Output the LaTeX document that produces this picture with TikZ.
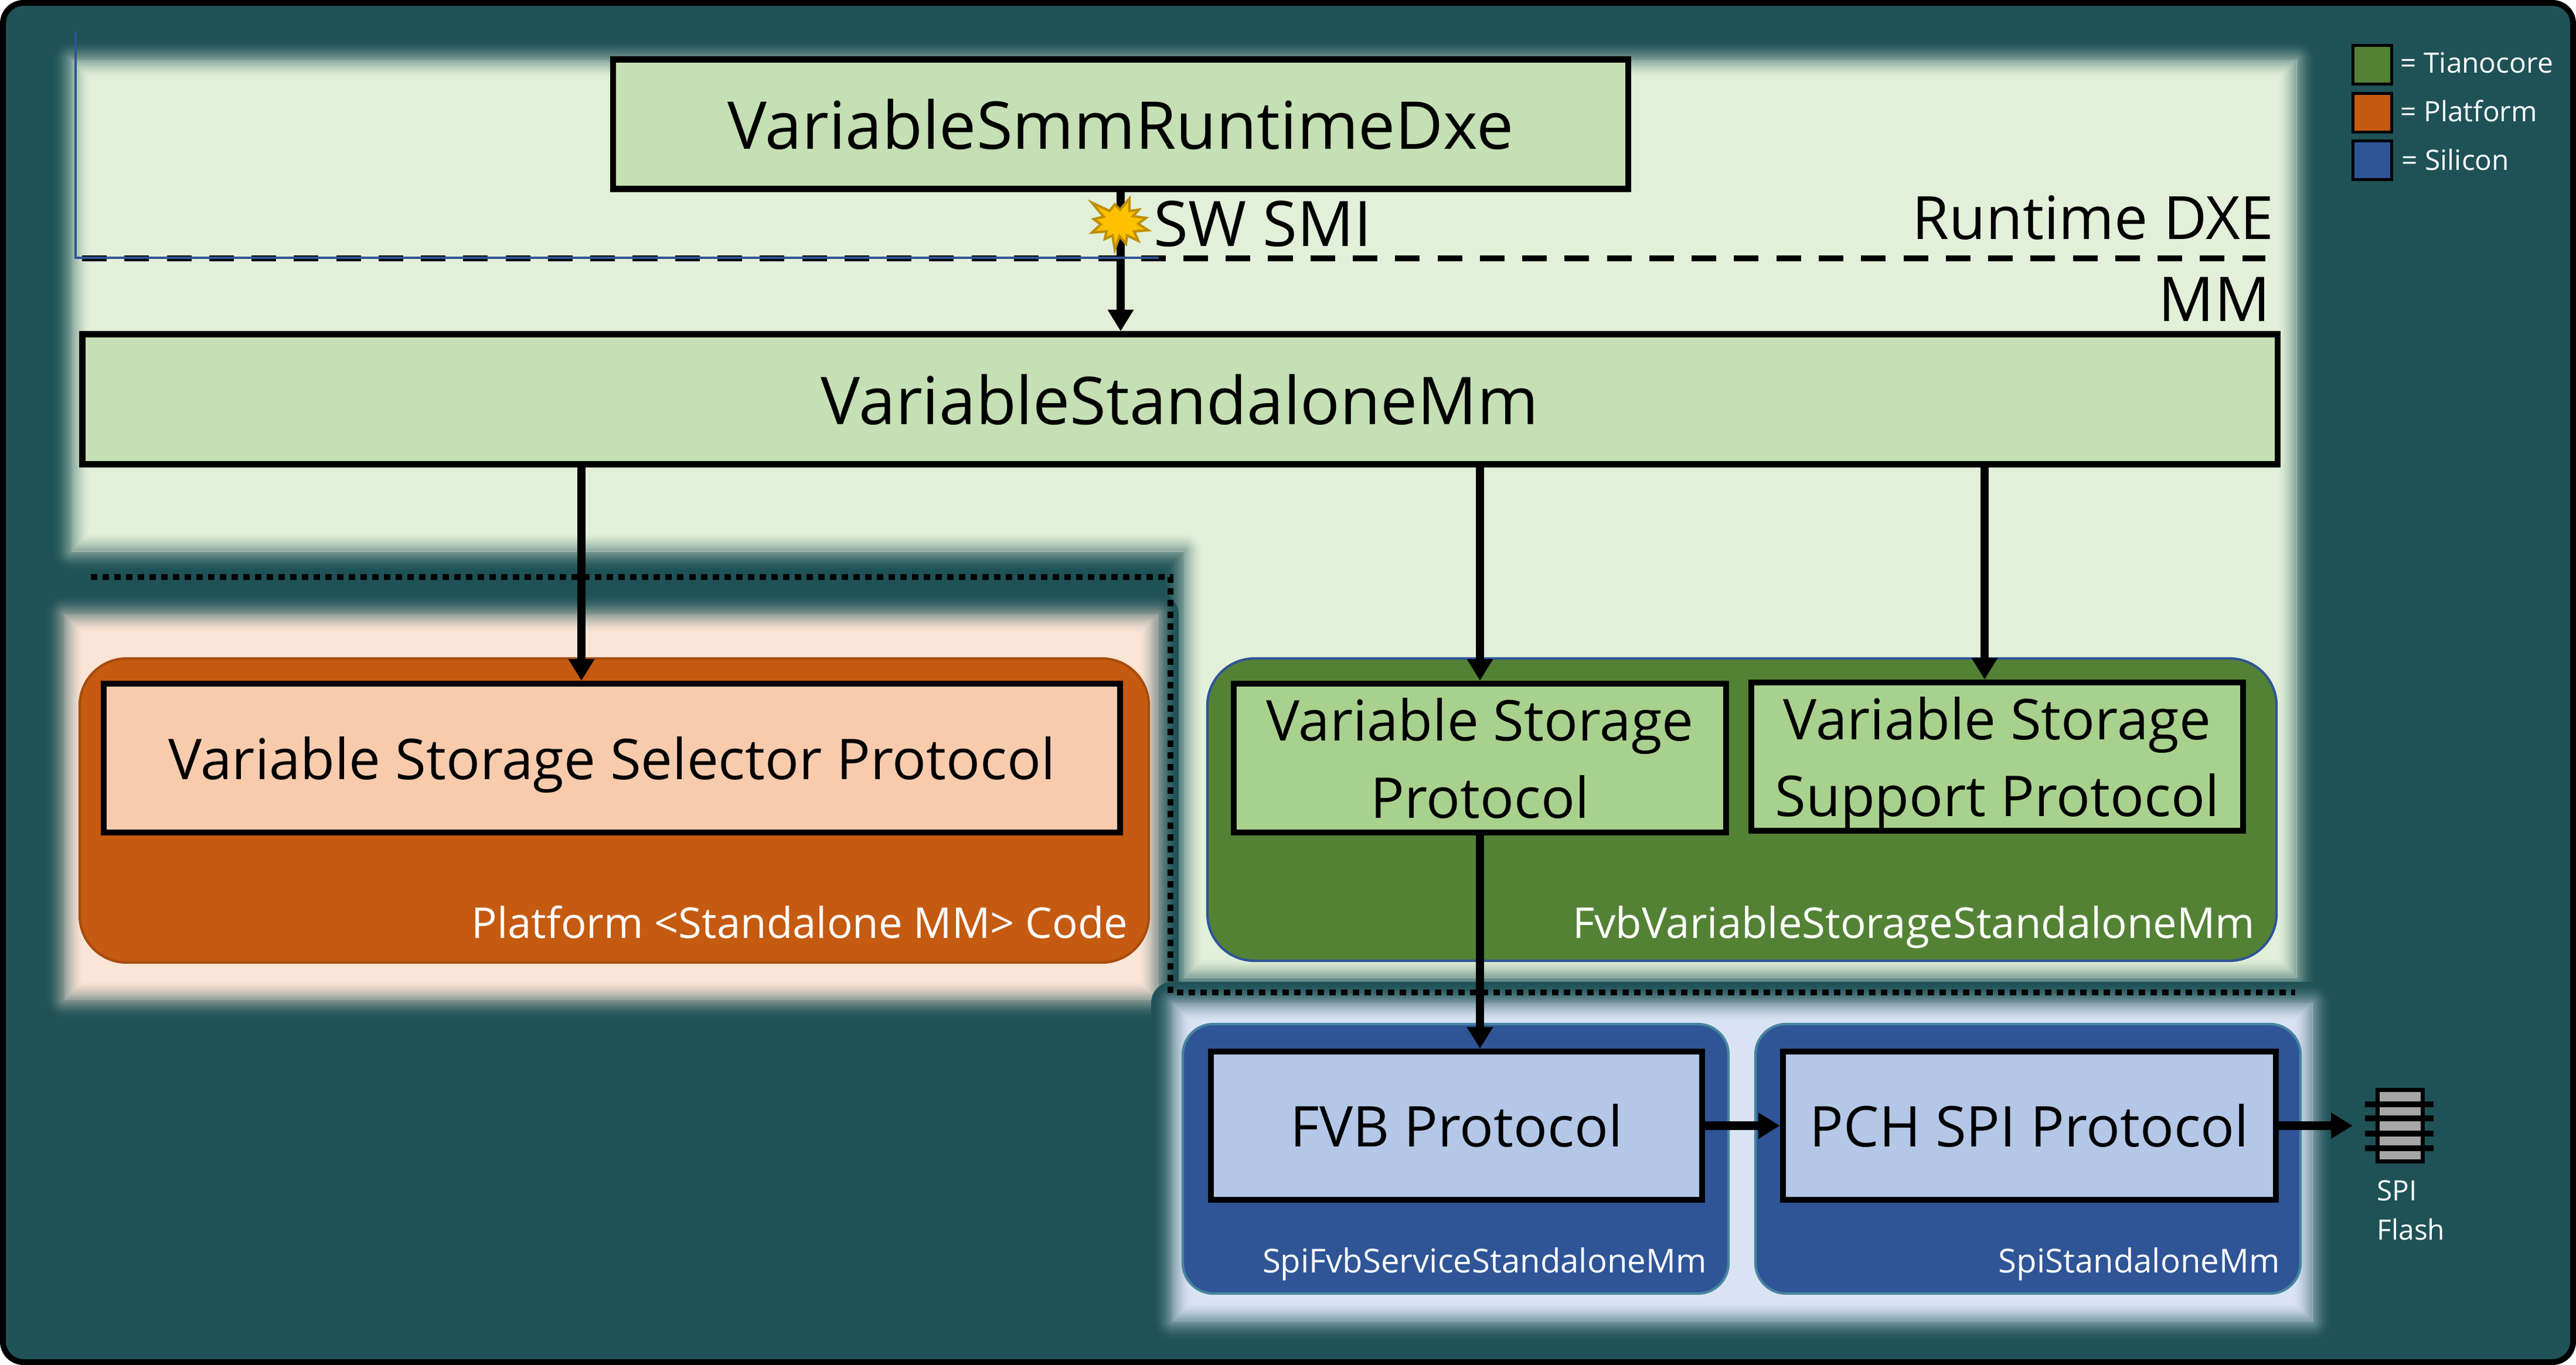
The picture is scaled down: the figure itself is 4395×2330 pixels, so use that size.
\documentclass[tikz,border=0pt]{standalone}
\usepackage{fontspec}
\setmainfont{Open Sans}
\usepackage{tikz}
\usetikzlibrary{arrows.meta}
\definecolor{bgteal}{HTML}{1F5257}
\definecolor{glowgreen}{HTML}{E2F0D9}
\definecolor{glowpeach}{HTML}{FBE5D6}
\definecolor{glowblue}{HTML}{DAE3F3}
\definecolor{boxgreen}{HTML}{C5E0B4}
\definecolor{boxlime}{HTML}{A9D18E}
\definecolor{boxpeach}{HTML}{F8CBAD}
\definecolor{boxblue}{HTML}{B4C7E7}
\definecolor{tianocore}{HTML}{548235}
\definecolor{platform}{HTML}{C55A11}
\definecolor{silicon}{HTML}{2F5597}
\definecolor{sparkfill}{HTML}{FFC000}
\definecolor{sparkline}{HTML}{BF9000}
\newcommand{\softarea}[2]{
	\foreach \k in {1,...,12} {
		\pgfmathsetmacro\halo{(13-\k)*6}
		\pgfmathsetmacro\tint{100*(0.5-\halo/144)*(0.5-\halo/144)*(2+\halo/72)}
		\draw[line width=\halo*0.2845pt,line join=round,draw=#1!\tint!bgteal] #2;
	}
	\begin{scope}
		\clip #2;
		\fill[#1] #2;
		\foreach \k in {1,...,12} {
			\pgfmathsetmacro\halo{(13-\k)*6}
			\pgfmathsetmacro\tint{100*(0.5+\halo/144)*(0.5+\halo/144)*(2-\halo/72)}
			\draw[line width=\halo*0.2845pt,line join=round,draw=#1!\tint!bgteal] #2;
		}
	\end{scope}
}
\tikzset{
	pxsize/.style 2 args={minimum width=#1*0.01cm,minimum height=#2*0.01cm},
	block/.style={draw=black,line width=2.85pt,inner sep=0pt,align=center,text=black,text depth=0pt},
	bigtext/.style={font=\fontsize{32}{38}\selectfont},
	midtext/.style={font=\fontsize{27.3}{37.3}\selectfont},
	panel/.style={line width=1.2pt,rounded corners=0.8cm},
	chipanel/.style={line width=1.2pt,rounded corners=0.52cm},
	flow/.style={line width=4pt,-{Triangle[length=10.5pt,width=12pt]}},
	tag/.style={anchor=base east,text=white,inner sep=0pt},
	side/.style={anchor=base east,text=black,inner sep=0pt},
	swatch/.style={draw=black,line width=1.4pt,inner sep=0pt,minimum size=0.66cm},
	key/.style={anchor=base west,text=white,inner sep=0pt,font=\fontsize{13.6}{17}\selectfont},
	scopeline/.style={line width=2.8pt,dash pattern=on 3.13pt off 2.56pt},
	pin/.style={line width=2.6pt},
}
\begin{document}
\begin{tikzpicture}[x=0.01cm,y=-0.01cm]
	\useasboundingbox (0,0) rectangle (4395,2330);
	\draw[line width=2.845pt,fill=bgteal,rounded corners=0.35cm] (5,5) rectangle (4390,2325);
	\softarea{glowgreen}{(122,102) -- (3918,102) -- (3918,1668) -- (2020,1668) -- (2020,941) -- (122,941) -- cycle}
	\softarea{glowpeach}{(110,1049) rectangle (1975,1706)}
	\softarea{glowblue}{(2000,1712) rectangle (3945,2255)}

	\fill[platform,draw=platform!85!black,panel] (136,1124) rectangle (1960,1643);
	\fill[tianocore,draw=silicon,panel] (2060,1124) rectangle (3884,1640);
	\fill[silicon,draw=silicon!70!cyan!60!gray,chipanel] (2018,1748) rectangle (2949,2208);
	\fill[silicon,draw=silicon!70!cyan!60!gray,chipanel] (2995,1748) rectangle (3925,2208);

	\node[block,fill=boxgreen,pxsize={1732}{221},bigtext] (runtime) at (1912,212) {VariableSmmRuntimeDxe};
	\node[block,fill=boxgreen,pxsize={3745}{222},bigtext] (standalone) at (2013,681.5) {VariableStandaloneMm};
	\node[block,fill=boxpeach,pxsize={1734}{254},midtext] (selector) at (1044,1294) {Variable Storage Selector Protocol};
	\node[block,fill=boxlime,pxsize={840}{254},midtext] (storage) at (2525,1294) {Variable Storage\\Protocol};
	\node[block,fill=boxlime,pxsize={839}{253},midtext] (support) at (3407.5,1291.5) {Variable Storage\\Support Protocol};
	\node[block,fill=boxblue,pxsize={838}{253},midtext] (fvb) at (2485,1921.5) {FVB Protocol};
	\node[block,fill=boxblue,pxsize={841}{253},midtext] (pch) at (3462.5,1921.5) {PCH SPI Protocol};

	\node[side,font=\fontsize{29}{34}\selectfont] (runtimelabel) at (3880,408) {Runtime DXE};
	\node[side,font=\fontsize{30}{34}\selectfont] (mmlabel) at (3874,548) {MM};
	\node[side,anchor=base west,font=\fontsize{30.5}{34}\selectfont] (swsmi) at (1968,420) {SW SMI};

	\node[tag,font=\fontsize{20.6}{25}\selectfont] (platformtag) at (1925,1601) {Platform <Standalone MM> Code};
	\node[tag,font=\fontsize{20.6}{25}\selectfont] (fvbtag) at (3848,1601) {FvbVariableStorageStandaloneMm};
	\node[tag,font=\fontsize{16}{19}\selectfont] (spifvbtag) at (2912,2172) {SpiFvbServiceStandaloneMm};
	\node[tag,font=\fontsize{16}{19}\selectfont] (spitag) at (3890,2172) {SpiStandaloneMm};

	\draw[line width=2.845pt,dash pattern=on 11.95pt off 8.6pt] (140,441) -- (3865,441);
	\draw[scopeline] (155,985) -- (1997,985) -- (1997,1704);
	\draw[scopeline] (2008,1694) -- (3916,1694);

	\coordinate (xsel) at (992,0);
	\coordinate (xsto) at (2525,0);
	\coordinate (xsup) at (3386,0);
	\coordinate (chipin) at (4014,1921.5);
	\draw[flow] (runtime.south) -- (runtime.south |- standalone.north);
	\draw[flow] (xsel |- standalone.south) -- (xsel |- selector.north);
	\draw[flow] (xsto |- standalone.south) -- (xsto |- storage.north);
	\draw[flow] (xsup |- standalone.south) -- (xsup |- support.north);
	\draw[flow] (xsto |- storage.south) -- (xsto |- fvb.north);
	\draw[flow] (fvb.east) -- (pch.west);
	\draw[flow] (pch.east) -- (chipin);

	\draw[silicon,line width=0.9pt] (129,54) -- (129,440) -- (1977,440);
	\draw[silicon,line width=1.15pt] (129,440) -- (1977,440);
	\draw[fill=sparkfill,draw=sparkline,line width=1.2pt,line join=miter]
		(1863,346) -- (1893,360) -- (1902,349) -- (1911,358) -- (1927,339) -- (1927,360)
		-- (1943,358) -- (1933,369) -- (1955,372) -- (1942,382) -- (1959,393) -- (1935,395)
		-- (1942,411) -- (1923,402) -- (1921,416) -- (1910,403) -- (1902,426) -- (1898,402)
		-- (1885,408) -- (1888,395) -- (1863,397) -- (1878,383) -- (1866,374) -- (1883,370) -- cycle;

	\node[draw=black,fill=black!35,line width=2pt,inner sep=0pt,pxsize={77}{122}] (chip) at (4095,1921) {};
	\foreach \py in {1885,1909,1935,1960} {
		\draw[pin] (4035,\py) -- (4152,\py);
	}
	\node[anchor=base west,text=white,inner sep=0pt,align=left,font=\fontsize{13.6}{18.8}\selectfont] (spilabel) at (4055,2116) {SPI\\Flash};

	\node[swatch,fill=tianocore] (keytiano) at (4047.5,110.5) {};
	\node[swatch,fill=platform] (keyplat) at (4047.5,192.5) {};
	\node[swatch,fill=silicon] (keysil) at (4047.5,273.5) {};
	\node[key] (tianotext) at (4095,124) {= Tianocore};
	\node[key] (plattext) at (4095,207) {= Platform};
	\node[key] (siltext) at (4097,290) {= Silicon};
\end{tikzpicture}
\end{document}
